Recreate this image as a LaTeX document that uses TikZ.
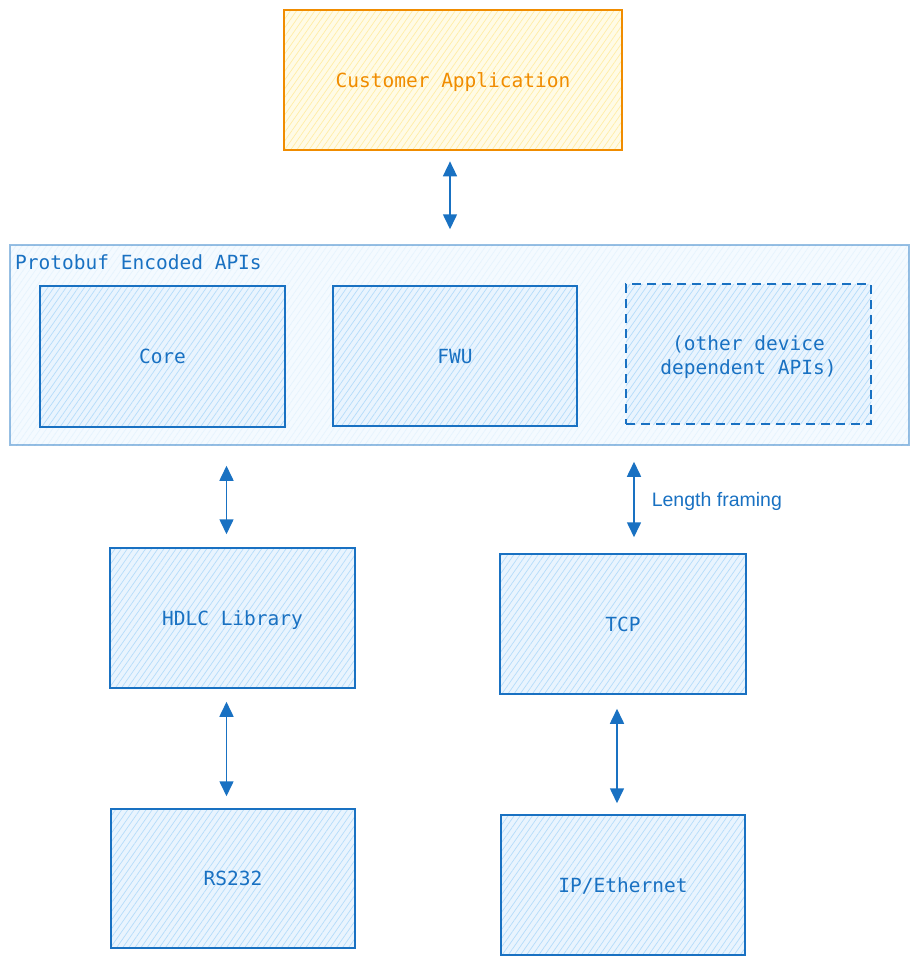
\documentclass[tikz,border=0pt]{standalone}
\usepackage{fontspec}
\setmainfont{DejaVu Sans Mono}
\newfontfamily\lblfont{Liberation Sans}
\usetikzlibrary{patterns.meta,arrows.meta,calc}
\definecolor{sblue}{HTML}{1971C2}
\definecolor{bfill}{HTML}{E9F4FE}
\definecolor{bhatch}{HTML}{B5DCFA}
\definecolor{pfill}{HTML}{F4FAFF}
\definecolor{phatch}{HTML}{D6ECFC}
\definecolor{sorange}{HTML}{F08C00}
\definecolor{ofill}{HTML}{FFFBE6}
\definecolor{ohatch}{HTML}{FFEDA6}
\begin{document}
\begin{tikzpicture}[x=1pt,y=-1pt,
  every node/.style={font=\fontsize{19.5}{24}\selectfont},
  bluebox/.style={draw=sblue, line width=1.5pt, preaction={fill=bfill},
    pattern={Lines[angle=55,distance=5pt,line width=0.7pt]}, pattern color=bhatch,
    text=sblue, inner sep=0pt, align=center, text height=18pt, text depth=4pt},
  outerbox/.style={draw=sblue, draw opacity=0.45, line width=1.5pt, preaction={fill=pfill},
    pattern={Lines[angle=55,distance=5pt,line width=0.7pt]}, pattern color=phatch,
    inner sep=0pt},
  orangebox/.style={draw=sorange, line width=1.5pt, preaction={fill=ofill},
    pattern={Lines[angle=55,distance=5pt,line width=0.7pt]}, pattern color=ohatch,
    text=sorange, inner sep=0pt, text height=18pt, text depth=4pt},
  dashbox/.style={bluebox, dash pattern=on 9pt off 6pt, text height=44pt},
  conn/.style={draw=sblue, line width=1.6pt,
    arrows={Triangle[length=15pt,width=14pt]-Triangle[length=15pt,width=14pt]}},
]
\useasboundingbox (0,0) rectangle (919,966);

\node[orangebox, minimum width=338pt, minimum height=140pt] (cust) at (453,80) {Customer Application};

\node[outerbox, minimum width=899pt, minimum height=200pt] (proto) at (459.5,345) {};
\node[anchor=west, text=sblue, inner sep=0pt] (plabel) at (15,262) {Protobuf Encoded APIs};

\node[bluebox, minimum width=245pt, minimum height=141pt] (core) at (162.5,356.5) {Core};
\node[bluebox, minimum width=244pt, minimum height=140pt] (fwu) at (455,356) {FWU};
\node[dashbox, minimum width=245pt, minimum height=140pt] (other) at (748.5,354) {(other device\\dependent APIs)};

\node[bluebox, minimum width=245pt, minimum height=140pt] (hdlc) at (232.5,618) {HDLC Library};
\node[bluebox, minimum width=246pt, minimum height=140pt] (tcp) at (623,624) {TCP};
\node[bluebox, minimum width=244pt, minimum height=139pt] (rs) at (233,878.5) {RS232};
\node[bluebox, minimum width=244pt, minimum height=140pt] (ip) at (623,885) {IP/Ethernet};

\draw[conn, shorten <=11pt, shorten >=15pt] ($(cust.south)+(-3,0)$) -- ($(cust.south |- proto.north)+(-3,0)$);
\draw[conn, shorten <=20pt, shorten >=13pt] ($(hdlc.north |- proto.south)+(-6,0)$) -- ($(hdlc.north)+(-6,0)$);
\draw[conn, shorten <=16pt, shorten >=16pt] ($(tcp.north |- proto.south)+(11,0)$) -- ($(tcp.north)+(11,0)$)
  node[midway, anchor=west, xshift=17pt, yshift=-2pt, inner sep=0pt, text=sblue, font=\lblfont\fontsize{19.5}{22}\selectfont] (lf) {Length framing};
\draw[conn, shorten <=13pt, shorten >=12pt] ($(hdlc.south)+(-6,0)$) -- ($(hdlc.south |- rs.north)+(-6,0)$);
\draw[conn, shorten <=14pt, shorten >=11pt] ($(tcp.south)+(-6,0)$) -- ($(tcp.south |- ip.north)+(-6,0)$);
\end{tikzpicture}
\end{document}
